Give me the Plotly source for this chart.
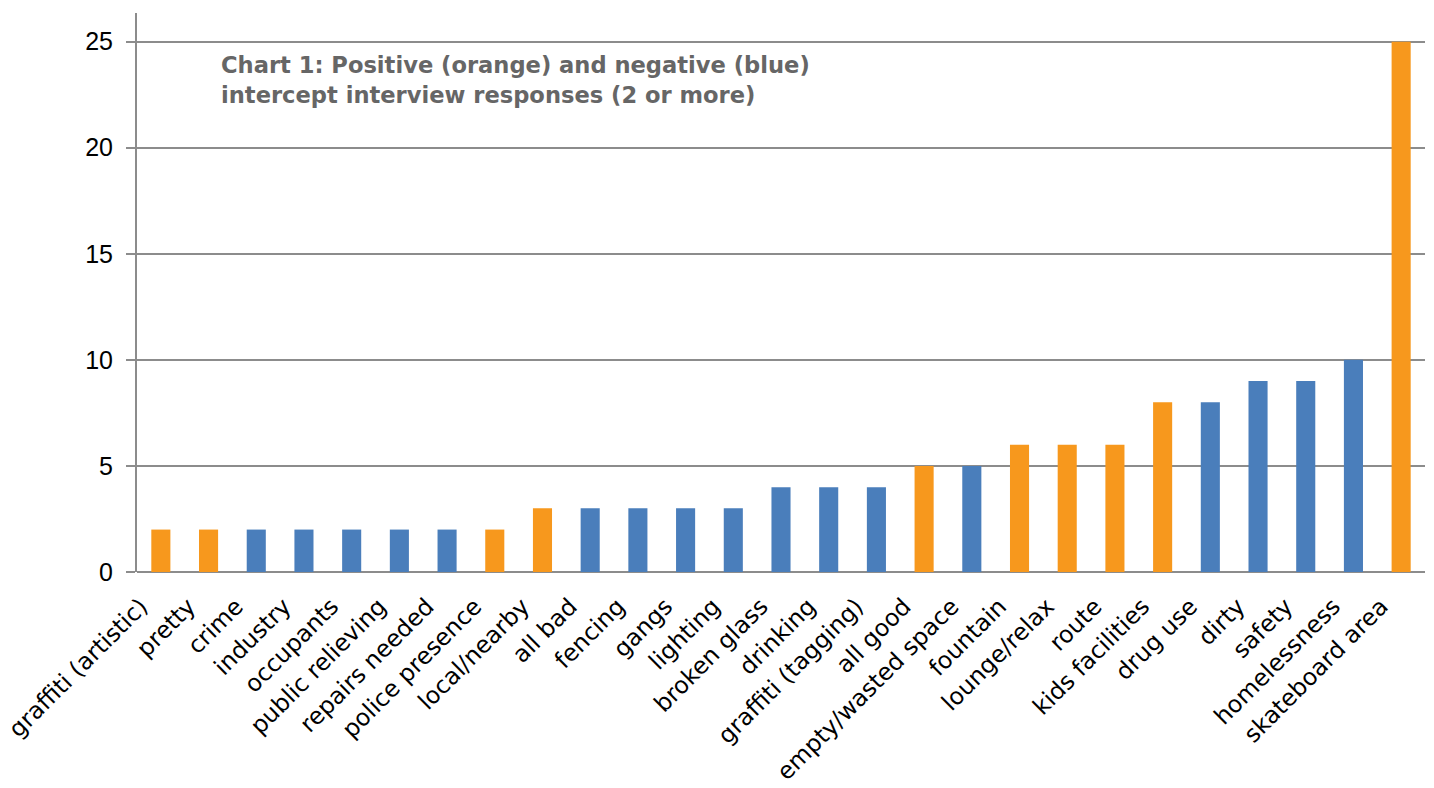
import plotly.graph_objects as go

# Intercept interview responses mentioned by 2 or more people
categories = [
    "graffiti (artistic)", "pretty", "crime", "industry", "occupants",
    "public relieving", "repairs needed", "police presence", "local/nearby",
    "all bad", "fencing", "gangs", "lighting", "broken glass", "drinking",
    "graffiti (tagging)", "all good", "empty/wasted space", "fountain",
    "lounge/relax", "route", "kids facilities", "drug use", "dirty",
    "safety", "homelessness", "skateboard area",
]
counts = [2, 2, 2, 2, 2, 2, 2, 2, 3, 3, 3, 3, 3, 4, 4, 4, 5, 5, 6, 6, 6, 8, 8, 9, 9, 10, 25]
sentiment = ["pos", "pos", "neg", "neg", "neg", "neg", "neg", "pos", "pos",
             "neg", "neg", "neg", "neg", "neg", "neg", "neg", "pos", "neg",
             "pos", "pos", "pos", "pos", "neg", "neg", "neg", "neg", "pos"]
y_ticks = [0, 5, 10, 15, 20, 25]
title_lines = [
    "Chart 1: Positive (orange) and negative (blue)",
    "intercept interview responses (2 or more)",
]

ORANGE = "#F7981D"
BLUE = "#4A7EBB"
GRID = "#8C8C8C"
bar_colors = [ORANGE if s == "pos" else BLUE for s in sentiment]

fig = go.Figure(
    go.Bar(
        x=categories,
        y=counts,
        marker=dict(color=bar_colors, line=dict(width=0)),
        showlegend=False,
    )
)

# two-line caption inside the plot area
caption = [
    dict(
        text=line,
        xref="paper", yref="paper",
        x=0.0637, y=yy,
        xanchor="left", yanchor="middle",
        align="left",
        showarrow=False,
        font=dict(family="DejaVu Sans", size=22.6, color="#666666", weight="bold"),
    )
    for line, yy in zip(title_lines, [0.9070, 0.8533])
]

fig.update_layout(
    width=1434,
    height=788,
    margin=dict(l=137, r=9, t=13, b=216),
    paper_bgcolor="white",
    plot_bgcolor="white",
    bargap=0.6,
    font=dict(family="DejaVu Sans", color="black"),
    xaxis=dict(
        automargin=False,
        tickangle=-45,
        tickfont=dict(family="DejaVu Sans", size=23.6, color="black"),
        ticklabelstandoff=15,
        ticklabelshift=-20,
        showgrid=False,
        showline=False,
        ticks="",
        zeroline=False,
    ),
    yaxis=dict(
        automargin=False,
        range=[0, 26.35],
        tickvals=y_ticks,
        tickfont=dict(family="Liberation Sans", size=25, color="black"),
        ticklabelstandoff=8,
        showgrid=True,
        gridcolor=GRID,
        gridwidth=2,
        showline=True,
        linecolor=GRID,
        linewidth=2,
        ticks="outside",
        ticklen=9,
        tickcolor=GRID,
        tickwidth=2,
        zeroline=True,
        zerolinecolor=GRID,
        zerolinewidth=2,
    ),
    annotations=caption,
)

fig.write_html("out.html")
